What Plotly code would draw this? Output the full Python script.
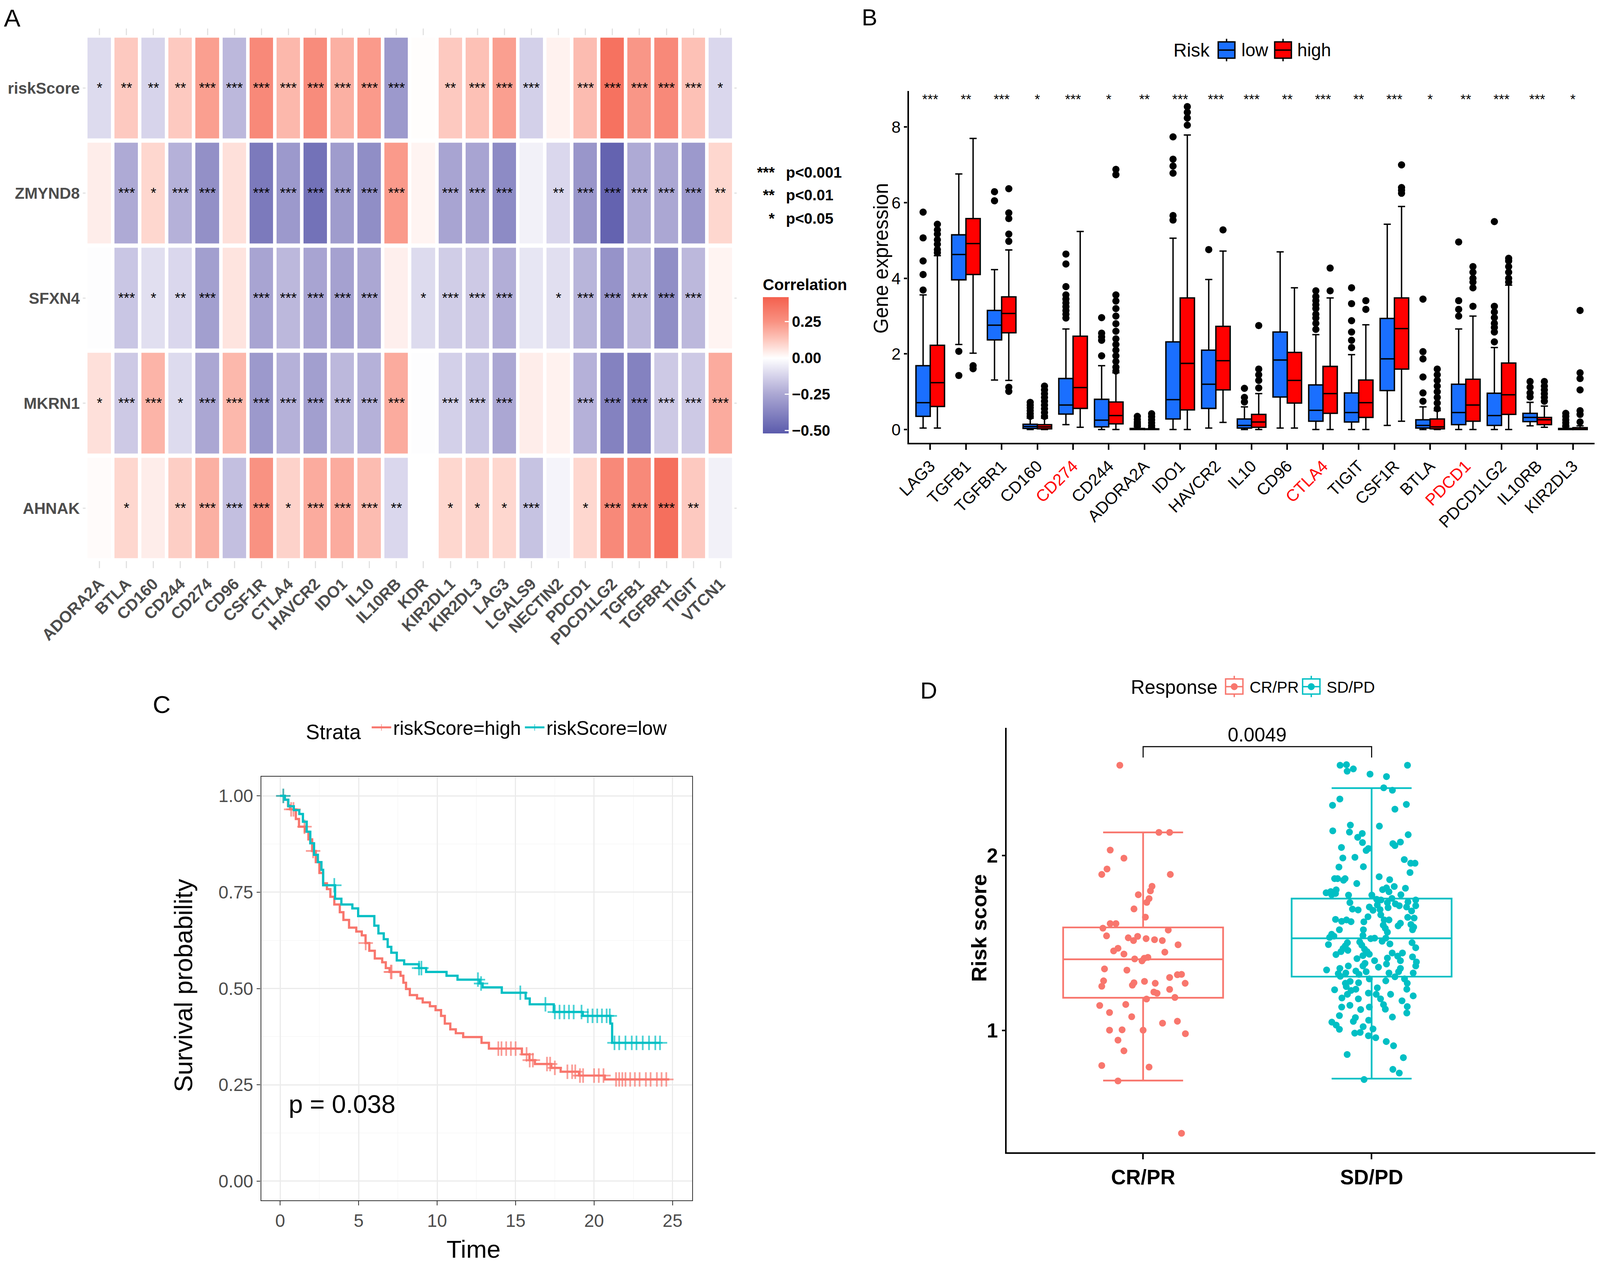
import plotly.graph_objects as go
from bisect import bisect_right

FONT = "Liberation Sans, Arial, Helvetica, sans-serif"
W, H = 4961, 3255           # reference pixel frame used for placing things
FIG_W, FIG_H = 4076, 3232   # the page is shown in a 4096 px wide viewport
SX, SY = FIG_W / W, FIG_H / H
F = 0.88                    # text / marker / line scale

# ---------------- panel A data ----------------
heat_rows = ["riskScore", "ZMYND8", "SFXN4", "MKRN1", "AHNAK"]
heat_cols = ["ADORA2A", "BTLA", "CD160", "CD244", "CD274", "CD96", "CSF1R", "CTLA4",
             "HAVCR2", "IDO1", "IL10", "IL10RB", "KDR", "KIR2DL1", "KIR2DL3", "LAG3",
             "LGALS9", "NECTIN2", "PDCD1", "PDCD1LG2", "TGFB1", "TGFBR1", "TIGIT", "VTCN1"]

corr_riskscore = [-0.10, 0.12, -0.12, 0.12, 0.22, -0.20, 0.28, 0.16, 0.27, 0.18, 0.23, -0.30,
                  0.005, 0.12, 0.14, 0.22, -0.13, 0.03, 0.15, 0.36, 0.24, 0.28, 0.14, -0.11]
corr_zmynd8 = [0.04, -0.24, 0.09, -0.22, -0.33, 0.07, -0.41, -0.30, -0.44, -0.29, -0.34, 0.23,
               0.025, -0.26, -0.26, -0.35, -0.04, -0.11, -0.31, -0.49, -0.24, -0.25, -0.30, 0.09]
corr_sfxn4 = [-0.005, -0.16, -0.09, -0.11, -0.28, 0.06, -0.26, -0.20, -0.26, -0.27, -0.25, 0.035,
              -0.10, -0.14, -0.15, -0.23, -0.07, -0.09, -0.21, -0.32, -0.20, -0.34, -0.20, 0.025]
corr_mkrn1 = [0.07, -0.15, 0.17, -0.10, -0.25, 0.16, -0.30, -0.22, -0.28, -0.20, -0.22, 0.19,
              -0.005, -0.13, -0.16, -0.25, 0.04, 0.03, -0.22, -0.38, -0.38, -0.15, -0.15, 0.19]
corr_ahnak = [0.01, 0.09, 0.04, 0.11, 0.18, -0.18, 0.25, 0.10, 0.19, 0.19, 0.15, -0.11,
              0.0, 0.09, 0.10, 0.09, -0.17, -0.03, 0.09, 0.28, 0.28, 0.37, 0.12, -0.04]

sig_riskscore = ["*", "**", "**", "**", "***", "***", "***", "***", "***", "***", "***", "***",
                 "", "**", "***", "***", "***", "", "***", "***", "***", "***", "***", "*"]
sig_zmynd8 = ["", "***", "*", "***", "***", "", "***", "***", "***", "***", "***", "***",
              "", "***", "***", "***", "", "**", "***", "***", "***", "***", "***", "**"]
sig_sfxn4 = ["", "***", "*", "**", "***", "", "***", "***", "***", "***", "***", "",
             "*", "***", "***", "***", "", "*", "***", "***", "***", "***", "***", ""]
sig_mkrn1 = ["*", "***", "***", "*", "***", "***", "***", "***", "***", "***", "***", "***",
             "", "***", "***", "***", "", "", "***", "***", "***", "***", "***", "***"]
sig_ahnak = ["", "*", "", "**", "***", "***", "***", "*", "***", "***", "***", "**",
             "", "*", "*", "*", "***", "", "*", "***", "***", "***", "**", ""]

# ---------------- panel B data ----------------
genes_b = ["LAG3", "TGFB1", "TGFBR1", "CD160", "CD274", "CD244", "ADORA2A", "IDO1", "HAVCR2",
           "IL10", "CD96", "CTLA4", "TIGIT", "CSF1R", "BTLA", "PDCD1", "PDCD1LG2", "IL10RB", "KIR2DL3"]
red_genes = ["CD274", "CTLA4", "PDCD1"]
sig_b = ["***", "**", "***", "*", "***", "*", "**", "***", "***", "***", "**", "***", "**",
         "***", "*", "**", "***", "***", "*"]

low_q1 = [0.35, 3.96, 2.37, 0.03, 0.41, 0.07, 0.0, 0.28, 0.56, 0.04, 0.86, 0.22, 0.20, 1.03, 0.04, 0.13, 0.11, 0.21, 0.0]
low_med = [0.71, 4.63, 2.76, 0.08, 0.65, 0.25, 0.01, 0.79, 1.20, 0.11, 1.84, 0.51, 0.45, 1.87, 0.11, 0.45, 0.37, 0.32, 0.01]
low_q3 = [1.69, 5.15, 3.15, 0.14, 1.35, 0.80, 0.03, 2.32, 2.10, 0.28, 2.58, 1.18, 0.97, 2.94, 0.26, 1.20, 0.96, 0.43, 0.03]
low_lo = [0.04, 2.25, 1.31, 0.0, 0.13, 0.0, 0.0, 0.0, 0.04, 0.0, 0.04, 0.0, 0.0, 0.11, 0.0, 0.0, 0.0, 0.10, 0.0]
low_hi = [3.56, 6.76, 4.23, 0.30, 2.66, 1.69, 0.07, 5.06, 3.97, 0.60, 4.70, 2.51, 1.98, 5.43, 0.60, 2.66, 2.17, 0.72, 0.07]

high_q1 = [0.61, 4.10, 2.56, 0.02, 0.56, 0.15, 0.0, 0.52, 1.05, 0.06, 0.70, 0.43, 0.32, 1.60, 0.02, 0.22, 0.40, 0.13, 0.0]
high_med = [1.24, 4.92, 3.07, 0.07, 1.11, 0.37, 0.01, 1.75, 1.82, 0.20, 1.30, 0.95, 0.71, 2.67, 0.07, 0.65, 0.92, 0.26, 0.01]
high_q3 = [2.23, 5.58, 3.51, 0.13, 2.47, 0.73, 0.02, 3.48, 2.73, 0.40, 2.04, 1.67, 1.31, 3.48, 0.28, 1.33, 1.76, 0.32, 0.05]
high_lo = [0.04, 2.02, 1.30, 0.0, 0.06, 0.0, 0.0, 0.0, 0.19, 0.0, 0.04, 0.0, 0.0, 0.22, 0.0, 0.0, 0.0, 0.06, 0.0]
high_hi = [4.60, 7.70, 4.75, 0.30, 5.24, 1.50, 0.05, 7.79, 4.72, 0.95, 3.75, 3.48, 2.77, 5.90, 0.50, 3.00, 3.82, 0.62, 0.10]

low_out = [
    [3.69, 4.1, 4.46, 5.07, 5.75],
    [1.43, 2.07],
    [6.05, 6.29],
    [0.35, 0.42, 0.5, 0.58, 0.65, 0.72],
    [2.95, 3.05, 3.15, 3.25, 3.35, 3.45, 3.56, 3.78, 4.38, 4.64],
    [1.95, 2.36, 2.45, 2.55, 2.96],
    [0.1, 0.15, 0.2, 0.27, 0.35],
    [5.54, 5.66, 6.78, 6.97, 7.15, 7.74],
    [4.76],
    [0.73, 0.85, 1.09],
    [],
    [2.65, 2.81, 2.95, 3.05, 3.2, 3.3, 3.41, 3.52, 3.67],
    [2.17, 2.36, 2.58, 2.88, 3.33, 3.75],
    [],
    [0.75, 0.97, 1.39, 1.87, 2.06, 3.45],
    [3.0, 3.18, 3.41, 4.96],
    [2.32, 2.58, 2.7, 2.81, 2.96, 3.11, 3.26, 5.5],
    [0.86, 0.97, 1.12, 1.27],
    [0.1, 0.18, 0.26, 0.35, 0.43],
]
high_out = [
    [4.68, 4.76, 4.9, 5.02, 5.17, 5.28, 5.43],
    [1.61, 1.69],
    [1.01, 1.12, 4.98, 5.17, 5.58, 5.73, 6.37],
    [0.35, 0.45, 0.55, 0.65, 0.75, 0.85, 0.95, 1.05, 1.15],
    [],
    [1.55, 1.65, 1.8, 1.95, 2.1, 2.25, 2.4, 2.6, 2.8, 3.0, 3.2, 3.4, 3.56, 6.74, 6.88],
    [0.1, 0.18, 0.26, 0.34, 0.42],
    [8.05, 8.24, 8.39, 8.54],
    [5.28],
    [1.1, 1.3, 1.45, 1.6, 2.75],
    [],
    [3.67, 4.27],
    [3.18, 3.41],
    [6.25, 6.33, 6.4, 7.0],
    [0.55, 0.7, 0.85, 1.0, 1.15, 1.3, 1.45, 1.6],
    [3.26, 3.75, 3.9, 4.0, 4.16, 4.31],
    [3.9, 4.0, 4.16, 4.31, 4.46, 4.53],
    [0.75, 0.85, 0.95, 1.05, 1.15, 1.27],
    [0.2, 0.4, 0.5, 1.05, 1.35, 1.5, 3.15],
]

# ---------------- panel C data ----------------
high_time = [0, 0.3, 0.5, 0.63, 1.0, 1.2, 1.57, 1.8, 2.04, 2.27, 2.5, 2.74, 2.98, 3.2, 3.45, 3.8,
             4.03, 4.39, 4.85, 5.2, 5.44, 5.68, 6.03, 6.5, 6.73, 6.97, 7.67, 7.85, 8.02, 8.26,
             8.72, 9.08, 9.54, 9.9, 10.25, 10.49, 10.84, 11.19, 11.66, 12.83, 13.3, 15.4,
             15.88, 16.23, 17.28, 17.87, 19.04, 20.68, 24.79]
high_surv = [1.0, 0.99, 0.975, 0.965, 0.94, 0.92, 0.907, 0.887, 0.857, 0.828, 0.80, 0.773, 0.758,
             0.738, 0.718, 0.698, 0.678, 0.658, 0.648, 0.638, 0.618, 0.598, 0.578, 0.568, 0.553,
             0.543, 0.533, 0.515, 0.499, 0.483, 0.474, 0.464, 0.454, 0.444, 0.429, 0.409, 0.394,
             0.384, 0.374, 0.359, 0.344, 0.329, 0.314, 0.304, 0.294, 0.284, 0.274, 0.264, 0.264]
high_censor = [0.2, 0.7, 0.85, 1.55, 2.1, 5.45, 7.05, 7.1, 13.9, 14.1, 14.4, 14.7, 15.0, 15.7,
               15.9, 16.1, 17.0, 17.2, 17.5, 18.3, 18.6, 18.8, 19.1, 19.3, 20.0, 20.3, 20.6,
               21.4, 21.6, 21.8, 22.0, 22.3, 22.6, 22.9, 23.3, 23.6, 24.0, 24.3, 24.6]

low_time = [0, 0.3, 0.52, 0.87, 1.22, 1.45, 1.69, 1.92, 2.16, 2.4, 2.63, 2.74, 3.5, 3.9, 4.6,
            4.97, 6.0, 6.26, 6.6, 6.85, 7.08, 7.43, 7.9, 8.84, 9.3, 10.6, 11.3, 12.71, 12.9,
            14.12, 15.64, 15.9, 17.43, 19.28, 21.04, 21.15, 24.2]
low_surv = [1.0, 0.99, 0.973, 0.963, 0.953, 0.933, 0.907, 0.877, 0.847, 0.828, 0.808, 0.768,
            0.733, 0.718, 0.708, 0.688, 0.663, 0.643, 0.628, 0.608, 0.593, 0.573, 0.563, 0.553,
            0.543, 0.533, 0.523, 0.513, 0.503, 0.489, 0.474, 0.459, 0.439, 0.429, 0.409, 0.359, 0.359]
low_censor = [0.2, 3.45, 8.85, 9.0, 12.6, 12.8, 15.3, 16.9, 17.5, 17.8, 18.1, 18.4, 18.7, 19.2,
              19.6, 19.9, 20.2, 20.5, 20.8, 21.0, 21.3, 21.6, 22.0, 22.4, 22.7, 23.1, 23.5, 23.9, 24.2]

# ---------------- panel D data ----------------
resp_groups = ["CR/PR", "SD/PD"]
resp_q1 = [1.187, 1.308]
resp_med = [1.407, 1.527]
resp_q3 = [1.589, 1.754]
resp_lo = [0.714, 0.725]
resp_hi = [2.132, 2.385]

crpr_jit = [-0.102, 0.069, 0.116, -0.144, -0.084, -0.158, -0.181, 0.119, 0.039, 0.032, -0.021, 0.026,
            0.016, -0.040, 0.010, -0.144, -0.119, -0.176, 0.110, -0.160, -0.065, -0.024, -0.042, 0.013,
            0.050, 0.084, 0.153, -0.110, -0.129, -0.084, 0.095, -0.037, -0.005, 0.005, 0.021, -0.169,
            -0.071, 0.150, 0.168, 0.116, -0.173, 0.006, -0.040, 0.053, -0.047, -0.181, 0.184, 0.116,
            0.047, 0.061, 0.139, 0.015, -0.076, -0.190, -0.147, -0.050, 0.085, 0.150, -0.147, -0.092,
            0.000, 0.185, -0.110, -0.084, -0.181, 0.026, -0.110, 0.168]
crpr_val = [2.516, 2.132, 2.132, 2.031, 1.985, 1.923, 1.892, 1.892, 1.824, 1.798, 1.776, 1.754,
            1.732, 1.695, 1.648, 1.611, 1.611, 1.585, 1.574, 1.541, 1.530, 1.538, 1.514, 1.525,
            1.519, 1.514, 1.490, 1.470, 1.455, 1.437, 1.448, 1.409, 1.398, 1.413, 1.418, 1.352,
            1.345, 1.319, 1.321, 1.303, 1.284, 1.281, 1.273, 1.270, 1.259, 1.253, 1.270, 1.235,
            1.220, 1.213, 1.189, 1.180, 1.149, 1.143, 1.103, 1.079, 1.042, 1.053, 1.002, 1.004,
            1.002, 0.982, 0.945, 0.884, 0.800, 0.791, 0.712, 0.413]

sdpd_jit = [-0.138, -0.110, -0.107, -0.080, -0.007, 0.157, 0.065, 0.053, 0.091, -0.139, -0.171, 0.152,
            0.102, -0.093, 0.034, -0.170, -0.097, -0.041, -0.061, 0.160, -0.040, 0.093, 0.102, 0.126,
            -0.132, -0.024, -0.014, -0.126, -0.073, 0.143, 0.171, 0.190, -0.143, -0.036, 0.168, 0.033,
            -0.162, -0.149, -0.123, -0.116, 0.079, -0.065, 0.099, 0.148, 0.048, 0.065, 0.076, -0.199,
            -0.179, -0.155, -0.175, -0.158, -0.101, 0.001, 0.128, 0.022, 0.041, 0.089, 0.193, 0.159,
            -0.095, 0.069, 0.025, 0.104, 0.121, 0.193, 0.153, 0.072, -0.084, -0.059, -0.010, 0.006,
            0.037, 0.175,
            -0.158, -0.131, -0.110, -0.090, -0.034, -0.016, 0.040, 0.055, 0.076, 0.051, 0.060, 0.069,
            0.116, 0.126, 0.158, 0.186, 0.172, 0.184, 0.179, -0.141, -0.036, -0.175, -0.165, -0.038,
            0.062, -0.184, -0.189, -0.004, 0.013, 0.046, -0.052, -0.043, -0.031, -0.020, -0.010, -0.106,
            -0.115, -0.125, -0.134, -0.156, -0.104, 0.080, 0.177, 0.193, 0.090, 0.135, 0.114, 0.179,
            0.069, -0.064, -0.038, 0.126, 0.196, 0.013, -0.029, 0.065, -0.102, 0.030, -0.038, -0.197,
            -0.139, 0.193, 0.126, 0.118, -0.113, -0.069, -0.024, 0.076, 0.182, -0.146, -0.055, -0.137,
            0.102, -0.010, 0.062, 0.144, -0.094, -0.115, -0.057, 0.156, 0.025, -0.162, -0.111, -0.090,
            -0.069, 0.154, -0.106, -0.014, 0.020, 0.083, 0.182, -0.130, -0.058, 0.039, 0.133, -0.095,
            0.052, -0.131, -0.010, -0.048, 0.060, 0.156, 0.154, -0.141, -0.071, 0.091, -0.013, -0.174,
            -0.080, -0.155, -0.141, -0.037, 0.006, -0.074, -0.050, -0.014, 0.018, 0.064, 0.096, -0.107,
            0.139, 0.093, 0.121, -0.033]
sdpd_val = [2.516, 2.519, 2.482, 2.495, 2.465, 2.516, 2.451, 2.387, 2.373, 2.323, 2.287, 2.292,
            2.265, 2.174, 2.168, 2.141, 2.134, 2.126, 2.104, 2.119, 2.074, 2.068, 2.057, 2.077,
            2.046, 2.029, 2.040, 1.986, 1.990, 1.977, 1.956, 1.956, 1.934, 1.936, 1.903, 1.879,
            1.868, 1.868, 1.859, 1.868, 1.862, 1.840, 1.823, 1.813, 1.805, 1.815, 1.793, 1.787,
            1.794, 1.804, 1.776, 1.783, 1.774, 1.774, 1.776, 1.750, 1.746, 1.755, 1.746, 1.735,
            1.731, 1.731, 1.717, 1.724, 1.713, 1.713, 1.706, 1.702, 1.694, 1.689, 1.706, 1.687,
            1.691, 1.683,
            1.635, 1.624, 1.632, 1.622, 1.621, 1.650, 1.661, 1.632, 1.632, 1.602, 1.584, 1.562,
            1.598, 1.613, 1.647, 1.643, 1.606, 1.591, 1.576, 1.576, 1.576, 1.550, 1.539, 1.543,
            1.528, 1.532, 1.491, 1.525, 1.528, 1.510, 1.506, 1.488, 1.465, 1.451, 1.436, 1.502,
            1.484, 1.469, 1.451, 1.434, 1.458, 1.495, 1.502, 1.473, 1.443, 1.443, 1.425, 1.421,
            1.414, 1.411, 1.428, 1.399, 1.392, 1.399, 1.384, 1.380, 1.369, 1.362, 1.369, 1.346,
            1.355, 1.369, 1.355, 1.336, 1.329, 1.340, 1.336, 1.329, 1.329, 1.325, 1.321, 1.310,
            1.307, 1.295, 1.284, 1.295, 1.281, 1.270, 1.273, 1.270, 1.244, 1.233, 1.251, 1.229,
            1.236, 1.236, 1.207, 1.214, 1.207, 1.207, 1.198, 1.186, 1.181, 1.181, 1.170, 1.144,
            1.148, 1.134, 1.134, 1.120, 1.122, 1.137, 1.100, 1.085, 1.074, 1.077, 1.059, 1.048,
            1.052, 1.031, 1.007, 1.022, 1.009, 0.985, 0.989, 0.970, 0.959, 0.937, 0.913, 0.863,
            0.845, 0.778, 0.757, 0.720]

SALMON = "#F8766D"
TEAL = "#00BFC4"
BLUE = "#1A6FFF"
RED = "#FF0000"


def fx(p):
    return p / W


def fy(p):
    return 1 - p / H


def z(v):
    return v * F


fig = go.Figure()

# ---------------- A: correlation heatmap ----------------
heat_scale = [
    [0.0, "#5B5BAC"],
    [0.2872, "#ABA7D3"],
    [0.4202, "#D5D2EA"],
    [0.5532, "#FFFFFF"],
    [0.6862, "#FDC7BD"],
    [0.8191, "#F99282"],
    [1.0, "#F4604E"],
]
fig.add_trace(go.Heatmap(
    z=[corr_riskscore, corr_zmynd8, corr_sfxn4, corr_mkrn1, corr_ahnak],
    x=heat_cols, y=heat_rows,
    text=[sig_riskscore, sig_zmynd8, sig_sfxn4, sig_mkrn1, sig_ahnak],
    texttemplate="%{text}", textfont=dict(size=z(42), color="black", family=FONT),
    xgap=11 * SX, ygap=11 * SY, zmin=-0.52, zmax=0.42, colorscale=heat_scale,
    colorbar=dict(
        x=fx(2367), xanchor="left", y=fy(908), yanchor="middle",
        len=403 / H, lenmode="fraction", thickness=80 * SX, thicknessmode="pixels",
        outlinewidth=0, xpad=0, ypad=0,
        tickvals=[-0.5, -0.25, 0, 0.25], ticktext=["\u22120.50", "\u22120.25", "0.00", "0.25"],
        ticks="inside", tickcolor="white", ticklen=12 * SX, tickwidth=z(3),
        tickfont=dict(size=z(44), color="black", family=FONT, weight="bold"),
        title=dict(text="Correlation", side="top",
                   font=dict(size=z(46), color="black", family=FONT, weight="bold")),
    ),
    xaxis="x", yaxis="y", hoverinfo="skip",
))

# ---------------- B: boxplots by risk group ----------------
pos_low = [i + 1 - 0.2 for i in range(len(genes_b))]
pos_high = [i + 1 + 0.2 for i in range(len(genes_b))]
fig.add_trace(go.Box(
    x=pos_low, q1=low_q1, median=low_med, q3=low_q3, lowerfence=low_lo, upperfence=low_hi,
    width=0.4, name="low", fillcolor=BLUE, line=dict(color="black", width=z(4)),
    boxpoints=False, showlegend=False, xaxis="x2", yaxis="y2", hoverinfo="skip",
))
fig.add_trace(go.Box(
    x=pos_high, q1=high_q1, median=high_med, q3=high_q3, lowerfence=high_lo, upperfence=high_hi,
    width=0.4, name="high", fillcolor=RED, line=dict(color="black", width=z(4)),
    boxpoints=False, showlegend=False, xaxis="x2", yaxis="y2", hoverinfo="skip",
))
out_x, out_y = [], []
for i, vals in enumerate(low_out):
    out_x += [pos_low[i]] * len(vals)
    out_y += vals
for i, vals in enumerate(high_out):
    out_x += [pos_high[i]] * len(vals)
    out_y += vals
fig.add_trace(go.Scatter(
    x=out_x, y=out_y, mode="markers", marker=dict(color="black", size=z(21)),
    showlegend=False, xaxis="x2", yaxis="y2", hoverinfo="skip",
))
fig.add_trace(go.Scatter(
    x=list(range(1, len(genes_b) + 1)), y=[8.7] * len(genes_b), mode="text", text=sig_b,
    textfont=dict(size=z(40), color="black", family=FONT), showlegend=False,
    xaxis="x2", yaxis="y2", hoverinfo="skip",
))


# ---------------- C: Kaplan-Meier ----------------
def km_with_censor(times, surv, censor):
    pts = list(zip(times, surv, [0] * len(times)))
    for t in censor:
        k = bisect_right(times, t) - 1
        pts.append((t, surv[k], z(30)))
    pts.sort(key=lambda p: (p[0], p[2]))
    return [p[0] for p in pts], [p[1] for p in pts], [p[2] for p in pts]


for name, t, s, c, col in [("riskScore=high", high_time, high_surv, high_censor, SALMON),
                           ("riskScore=low", low_time, low_surv, low_censor, TEAL)]:
    kx, ky, ks = km_with_censor(t, s, c)
    fig.add_trace(go.Scatter(
        x=kx, y=ky, mode="lines+markers", line=dict(color=col, width=z(6.5), shape="hv"),
        marker=dict(symbol="cross-thin", size=ks, color=col, line=dict(color=col, width=z(5))),
        name=name, legend="legend2", xaxis="x3", yaxis="y3", hoverinfo="skip",
    ))

# ---------------- D: risk score by response ----------------
for k, (grp, col) in enumerate(zip(resp_groups, [SALMON, TEAL])):
    fig.add_trace(go.Box(
        x=[k + 1], q1=[resp_q1[k]], median=[resp_med[k]], q3=[resp_q3[k]],
        lowerfence=[resp_lo[k]], upperfence=[resp_hi[k]], width=0.7, name=grp,
        fillcolor="rgba(255,255,255,0)", line=dict(color=col, width=z(5)), boxpoints=False,
        showlegend=False, xaxis="x4", yaxis="y4", hoverinfo="skip",
    ))
fig.add_trace(go.Scatter(
    x=[1 + j for j in crpr_jit], y=crpr_val, mode="markers",
    marker=dict(color=SALMON, size=z(20)), showlegend=False, xaxis="x4", yaxis="y4", hoverinfo="skip",
))
fig.add_trace(go.Scatter(
    x=[2 + j for j in sdpd_jit], y=sdpd_val, mode="markers",
    marker=dict(color=TEAL, size=z(20)), showlegend=False, xaxis="x4", yaxis="y4", hoverinfo="skip",
))

# ---------------- layout ----------------
tick_b = [f"<span style='color:#FF0000'>{g}</span>" if g in red_genes else g for g in genes_b]
LIGHT = "#E2E2E2"

fig.update_layout(
    width=FIG_W, height=FIG_H, margin=dict(l=0, r=0, t=0, b=0),
    paper_bgcolor="white", plot_bgcolor="white",
    font=dict(family=FONT, color="black"),
    # A
    xaxis=dict(domain=[fx(258), fx(2277)], anchor="y", type="category", tickangle=-45,
               ticks="outside", ticklen=18 * SY, tickwidth=z(3), tickcolor=LIGHT, mirror="ticks",
               showline=True, linecolor="white", linewidth=1, showgrid=False, zeroline=False,
               automargin=False,
               tickfont=dict(size=z(47), color="#4D4D4D", family=FONT, weight="bold")),
    yaxis=dict(domain=[fy(1438), fy(84)], anchor="x", type="category", autorange="reversed",
               ticks="outside", ticklen=8 * SX, tickwidth=z(3), tickcolor=LIGHT, mirror="ticks",
               showline=True, linecolor="white", linewidth=1, showgrid=False, zeroline=False,
               automargin=False,
               tickfont=dict(size=z(46), color="#4D4D4D", family=FONT, weight="bold")),
    # B
    xaxis2=dict(domain=[fx(2822), fx(4958)], anchor="y2", range=[0.4, 19.6],
                tickvals=list(range(1, len(genes_b) + 1)), ticktext=tick_b, tickangle=-45,
                ticks="outside", ticklen=14 * SY, tickwidth=z(4), tickcolor="black",
                showline=True, linecolor="black", linewidth=z(5), showgrid=False, zeroline=False,
                automargin=False, tickfont=dict(size=z(48), color="black", family=FONT)),
    yaxis2=dict(domain=[fy(1134), fy(227)], anchor="x2", range=[-0.35, 8.95],
                tickvals=[0, 2, 4, 6, 8], ticks="outside", ticklen=10 * SX, tickwidth=z(4),
                tickcolor="black", showline=True, linecolor="black", linewidth=z(5),
                showgrid=False, zeroline=False, automargin=False,
                tickfont=dict(size=z(48), color="black", family=FONT)),
    # C
    xaxis3=dict(domain=[fx(804), fx(2147)], anchor="y3", range=[-1.21, 26.25],
                tickvals=[0, 5, 10, 15, 20, 25], ticks="outside", ticklen=11 * SY, tickwidth=z(2.5),
                tickcolor="#333333", showline=True, mirror=True, linecolor="#333333", linewidth=z(2.5),
                showgrid=True, gridcolor="#EBEBEB", gridwidth=z(3), zeroline=False, automargin=False,
                minor=dict(dtick=2.5, tick0=0, showgrid=True, gridcolor="#F3F3F3", gridwidth=z(1.5)),
                tickfont=dict(size=z(52), color="#4D4D4D", family=FONT)),
    yaxis3=dict(domain=[fy(3088), fy(1995)], anchor="x3", range=[-0.05, 1.05],
                tickvals=[0, 0.25, 0.5, 0.75, 1.0], tickformat=".2f", ticks="outside", ticklen=11 * SX,
                tickwidth=z(2.5), tickcolor="#333333", showline=True, mirror=True, linecolor="#333333",
                linewidth=z(2.5), showgrid=True, gridcolor="#EBEBEB", gridwidth=z(3), zeroline=False,
                automargin=False,
                minor=dict(dtick=0.125, tick0=0, showgrid=True, gridcolor="#F3F3F3", gridwidth=z(1.5)),
                tickfont=dict(size=z(52), color="#4D4D4D", family=FONT)),
    # D
    xaxis4=dict(domain=[fx(3127), 1.0], anchor="y4", range=[0.403, 2.979],
                tickvals=[1, 2], ticktext=resp_groups, ticks="outside", ticklen=14 * SY, tickwidth=z(4),
                tickcolor="black", showline=True, linecolor="black", linewidth=z(5),
                showgrid=False, zeroline=False, automargin=False,
                tickfont=dict(size=z(60), color="black", family=FONT, weight="bold")),
    yaxis4=dict(domain=[fy(2964), fy(1869)], anchor="x4", range=[0.304, 2.73],
                tickvals=[1, 2], ticks="outside", ticklen=10 * SX, tickwidth=z(4), tickcolor="black",
                showline=True, linecolor="black", linewidth=z(5), showgrid=False, zeroline=False,
                automargin=False,
                tickfont=dict(size=z(58), color="black", family=FONT, weight="bold")),
    legend2=dict(orientation="h", x=fx(1508), xanchor="center", y=fy(1869), yanchor="middle",
                 title=dict(text="Strata ", side="left", font=dict(size=z(60), family=FONT)),
                 font=dict(size=z(56), family=FONT), itemsizing="constant", itemwidth=50,
                 tracegroupgap=0, bgcolor="rgba(0,0,0,0)"),
)

# significance bracket in D
fig.add_shape(type="path", path="M 1,2.56 L 1,2.622 L 2,2.622 L 2,2.56",
              xref="x4", yref="y4", line=dict(color="black", width=z(3)))


# hand-drawn legend keys for the box panels (ggplot style box glyphs)
def box_key(x0, x1, y0, y1, ymid, line_col, fill_col, width, dot=False):
    xc = (x0 + x1) / 2
    fig.add_shape(type="line", xref="paper", yref="paper", x0=fx(xc), x1=fx(xc),
                  y0=fy(y0 - 8), y1=fy(y1 + 8), line=dict(color=line_col, width=z(width)))
    fig.add_shape(type="rect", xref="paper", yref="paper", x0=fx(x0), x1=fx(x1),
                  y0=fy(y1), y1=fy(y0), fillcolor=fill_col, line=dict(color=line_col, width=z(width)))
    fig.add_shape(type="line", xref="paper", yref="paper", x0=fx(x0), x1=fx(x1),
                  y0=fy(ymid), y1=fy(ymid), line=dict(color=line_col, width=z(width)))
    if dot:
        rx = 9 * SY / SX
        fig.add_shape(type="circle", xref="paper", yref="paper", x0=fx(xc - rx), x1=fx(xc + rx),
                      y0=fy(ymid + 9), y1=fy(ymid - 9), fillcolor=line_col, line=dict(width=0))


box_key(3786, 3838, 100, 142, 121, "black", BLUE, 4)
box_key(3962, 4014, 100, 142, 121, "black", RED, 4)
box_key(3809, 3863, 1743, 1782, 1763, SALMON, "white", 4, dot=True)
box_key(4049, 4103, 1743, 1782, 1763, TEAL, "white", 4, dot=True)

texts = [
    # (x, y, text, anchor, size, bold, angle)
    (2408, 437, "***", "right", 44, True, 0),
    (2408, 495, "**", "right", 44, True, 0),
    (2408, 555, "*", "right", 44, True, 0),
    (2437, 437, "p<0.001", "left", 44, True, 0),
    (2437, 495, "p<0.01", "left", 44, True, 0),
    (2437, 555, "p<0.05", "left", 44, True, 0),
    (28, 38, "A", "center", 72, False, 0),
    (2699, 37, "B", "center", 68, False, 0),
    (494, 1809, "C", "center", 72, False, 0),
    (2884, 1773, "D", "center", 68, False, 0),
    (3762, 121, "Risk", "right", 54, False, 0),
    (3856, 121, "low", "left", 52, False, 0),
    (4030, 121, "high", "left", 52, False, 0),
    (3786, 1764, "Response", "right", 56, False, 0),
    (3881, 1764, "CR/PR", "left", 46, False, 0),
    (4121, 1764, "SD/PD", "left", 46, False, 0),
    (2735, 658, "Gene expression", "center", 58, False, -90),
    (561, 2533, "Survival probability", "center", 74, False, -90),
    (1465, 3214, "Time", "center", 72, False, 0),
    (3041, 2386, "Risk score", "center", 62, True, -90),
]
for x, y, t, anc, size, bold, ang in texts:
    fig.add_annotation(
        x=fx(x), y=fy(y), xref="paper", yref="paper", text=t, showarrow=False,
        xanchor=anc, yanchor="middle", textangle=ang,
        font=dict(size=z(size), color="black", family=FONT, weight="bold" if bold else "normal"),
    )

fig.add_annotation(x=0.5, y=0.2, xref="x3", yref="y3", text="p = 0.038", showarrow=False,
                   xanchor="left", yanchor="middle", font=dict(size=z(74), color="black", family=FONT))
fig.add_annotation(x=1.5, y=2.69, xref="x4", yref="y4", text="0.0049", showarrow=False,
                   xanchor="center", yanchor="middle", font=dict(size=z(56), color="black", family=FONT))

fig.write_html("out.html")
